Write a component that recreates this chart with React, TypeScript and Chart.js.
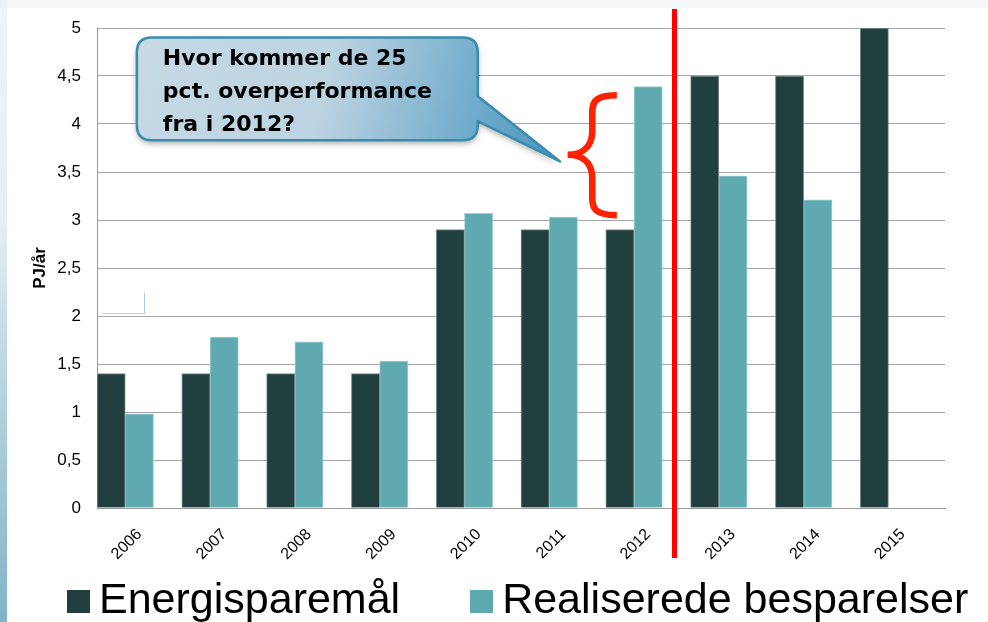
import React, { useEffect, useRef } from "react";
import { Chart, registerables } from "chart.js";

Chart.register(...registerables);

const categories = ["2006", "2007", "2008", "2009", "2010", "2011", "2012", "2013", "2014", "2015"];
const targetValues = [1.4, 1.4, 1.4, 1.4, 2.9, 2.9, 2.9, 4.5, 4.5, 5.0];
const realizedValues = [0.98, 1.78, 1.73, 1.53, 3.07, 3.03, 4.39, 3.46, 3.21, null];
const spacerValues = categories.map(() => null);
const seriesNames = ["Energisparemål", "Realiserede besparelser"];
const seriesColors = ["#213f3e", "#5eaab0"];
const seriesBorders = ["#7f8f8f", "#9fcfd2"];
const yTickValues = [0, 0.5, 1, 1.5, 2, 2.5, 3, 3.5, 4, 4.5, 5];
const yTitle = "PJ/år";
const calloutLines = ["Hvor kommer de 25", "pct. overperformance", "fra i 2012?"];

const overlayPlugin = {
  id: "overlay",
  afterDraw(chart: any) {
    const { ctx, chartArea, scales } = chart;
    const ys = scales.y;
    const catW = (chartArea.right - chartArea.left) / categories.length;
    const xAt = (f: number) => chartArea.left + f * catW;
    const yAt = (v: number) => ys.getPixelForValue(v);

    ctx.save();
    // small stray mark
    ctx.strokeStyle = "#a9c8ef";
    ctx.lineWidth = 1;
    ctx.beginPath();
    ctx.moveTo(xAt(0.07), yAt(2.03) + 0.5);
    ctx.lineTo(Math.round(xAt(0.55)) + 0.5, yAt(2.03) + 0.5);
    ctx.lineTo(Math.round(xAt(0.55)) + 0.5, yAt(2.24));
    ctx.stroke();

    // red vertical divider
    const rx = xAt(6.81);
    ctx.strokeStyle = "#ff0000";
    ctx.lineWidth = 5;
    ctx.beginPath();
    ctx.moveTo(rx, chartArea.top - 19);
    ctx.lineTo(rx, chartArea.bottom + 50);
    ctx.stroke();

    // red brace
    const bTop = yAt(4.3);
    const bBot = yAt(3.05);
    const bMid = yAt(3.68);
    const bRight = xAt(6.13);
    const bTip = xAt(5.55);
    const bCol = xAt(5.84);
    ctx.strokeStyle = "#ff2200";
    ctx.lineWidth = 6.5;
    ctx.lineCap = "butt";
    ctx.beginPath();
    ctx.moveTo(bRight, bTop);
    ctx.bezierCurveTo(bCol - 2, bTop, bCol, bTop + 10, bCol, bTop + 24);
    ctx.lineTo(bCol, bMid - 24);
    ctx.bezierCurveTo(bCol, bMid - 4, bTip + 10, bMid, bTip, bMid);
    ctx.bezierCurveTo(bTip + 10, bMid, bCol, bMid + 4, bCol, bMid + 24);
    ctx.lineTo(bCol, bBot - 24);
    ctx.bezierCurveTo(bCol, bBot - 10, bCol - 2, bBot, bRight, bBot);
    ctx.stroke();

    // callout
    const L = xAt(0.47);
    const R = xAt(4.49);
    const T = yAt(4.9);
    const B = yAt(3.83);
    const r = 15;
    const tailTop = yAt(4.29);
    const tailBot = yAt(4.03);
    const tipX = xAt(5.46);
    const tipY = yAt(3.61);
    ctx.beginPath();
    ctx.moveTo(L + r, T);
    ctx.lineTo(R - r, T);
    ctx.quadraticCurveTo(R, T, R, T + r);
    ctx.lineTo(R, tailTop);
    ctx.lineTo(tipX, tipY);
    ctx.lineTo(R, tailBot);
    ctx.lineTo(R, B - r);
    ctx.quadraticCurveTo(R, B, R - r, B);
    ctx.lineTo(L + r, B);
    ctx.quadraticCurveTo(L, B, L, B - r);
    ctx.lineTo(L, T + r);
    ctx.quadraticCurveTo(L, T, L + r, T);
    ctx.closePath();
    const g = ctx.createLinearGradient(L, T, tipX, B);
    g.addColorStop(0, "#c6d9e5");
    g.addColorStop(0.45, "#bcd3e1");
    g.addColorStop(0.8, "#6eaacb");
    g.addColorStop(1, "#4b98be");
    ctx.save();
    ctx.shadowColor = "rgba(0,0,0,0.35)";
    ctx.shadowBlur = 6;
    ctx.shadowOffsetY = 3;
    ctx.fillStyle = g;
    ctx.fill();
    ctx.restore();
    ctx.strokeStyle = "#3a8cae";
    ctx.lineWidth = 2.5;
    ctx.lineJoin = "round";
    ctx.stroke();

    ctx.fillStyle = "#000000";
    ctx.font = "bold 22px 'DejaVu Sans'";
    ctx.textAlign = "left";
    ctx.textBaseline = "alphabetic";
    calloutLines.forEach((line, i) => {
      ctx.fillText(line, L + 26, T + 27 + i * 33);
    });
    ctx.restore();
  },
};

export default function App() {
  const canvasRef = useRef<HTMLCanvasElement | null>(null);

  useEffect(() => {
    const canvas = canvasRef.current;
    if (!canvas) return;
    const chart = new Chart(canvas, {
      type: "bar",
      data: {
        labels: categories,
        datasets: [
          {
            label: seriesNames[0],
            data: targetValues,
            backgroundColor: seriesColors[0],
            borderColor: seriesBorders[0],
            borderWidth: 1,
          },
          {
            label: seriesNames[1],
            data: realizedValues as any,
            backgroundColor: seriesColors[1],
            borderColor: seriesBorders[1],
            borderWidth: 1,
          },
          {
            label: "",
            data: spacerValues as any,
            backgroundColor: "rgba(0,0,0,0)",
          },
        ],
      },
      options: {
        responsive: false,
        animation: false,
        devicePixelRatio: 1,
        layout: { padding: { top: 28, left: 0, right: 43, bottom: 0 } },
        plugins: {
          legend: { display: false },
          tooltip: { enabled: false },
        },
        datasets: { bar: { categoryPercentage: 1, barPercentage: 1 } },
        scales: {
          x: {
            grid: { display: false, drawTicks: false },
            border: { display: true, color: "#9a9a9a", width: 1 },
            ticks: {
              color: "#000",
              font: { family: "'Liberation Sans', Arial", size: 16 },
              minRotation: 45,
              maxRotation: 45,
              padding: 17,
            },
            afterFit: (s: any) => {
              s.height = 114;
            },
          },
          y: {
            min: 0,
            max: 5,
            afterBuildTicks: (s: any) => {
              s.ticks = yTickValues.map((v) => ({ value: v }));
            },
            grid: { color: "#a6a6a6", lineWidth: 1, drawTicks: false },
            border: { display: true, color: "#9a9a9a", width: 1 },
            ticks: {
              color: "#000",
              font: { family: "'Liberation Sans', Arial", size: 17 },
              padding: 16,
              callback: (v: any) => String(v).replace(".", ","),
            },
            title: {
              display: true,
              text: yTitle,
              color: "#000",
              font: { family: "'Liberation Sans', Arial", size: 17, weight: "bold" },
              padding: { top: 30, bottom: 0 },
            },
            afterFit: (s: any) => {
              s.width = 97;
            },
          },
        },
      },
      plugins: [overlayPlugin],
    });
    return () => chart.destroy();
  }, []);

  return (
    <div
      style={{
        position: "absolute",
        left: 0,
        top: 0,
        width: 988,
        height: 622,
        background: "#ffffff",
        overflow: "hidden",
      }}
    >
      <div
        style={{
          position: "absolute",
          left: 0,
          top: 0,
          width: 988,
          height: 8,
          background: "#f3f7f8",
        }}
      />
      <div
        style={{
          position: "absolute",
          left: 0,
          top: 0,
          width: 7,
          height: 622,
          background: "linear-gradient(to bottom, #eef4f6 0%, #e6eff3 35%, #b9d6e1 60%, #7fb4c8 100%)",
        }}
      />
      <canvas
        ref={canvasRef}
        width={988}
        height={622}
        style={{ position: "absolute", left: 0, top: 0, width: 988, height: 622 }}
      />
      <div
        style={{
          position: "absolute",
          left: 67,
          top: 577,
          whiteSpace: "nowrap",
          fontFamily: "'Liberation Sans', Arial, sans-serif",
          fontSize: 43,
          lineHeight: "43px",
          color: "#000",
        }}
      >
        {seriesNames.map((name, i) => (
          <span key={name} style={{ display: "inline-block", marginRight: i === 0 ? 70 : 0 }}>
            <span
              style={{
                display: "inline-block",
                width: 23,
                height: 23,
                background: seriesColors[i],
                marginRight: 9,
              }}
            />
            {name}
          </span>
        ))}
      </div>
    </div>
  );
}
